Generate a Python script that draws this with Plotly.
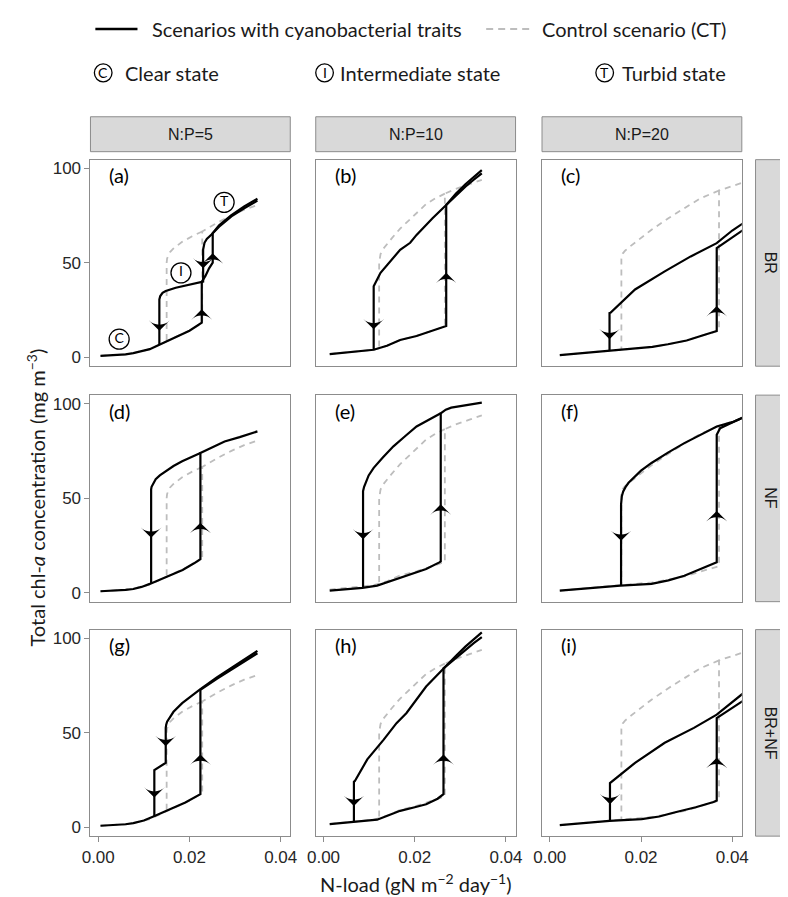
import plotly.graph_objects as go

# ---------------- data ----------------
COL_LABELS = ["N:P=5", "N:P=10", "N:P=20"]
ROW_LABELS = ["BR", "NF", "BR+NF"]
PANEL_TAGS = ["(a)", "(b)", "(c)", "(d)", "(e)", "(f)", "(g)", "(h)", "(i)"]
X_TICKS = [0.0, 0.02, 0.04]
X_TICKTEXT = ["0.00", "0.02", "0.04"]
Y_TICKS = [0, 50, 100]

# control scenario (CT), one per N:P column
ct1_fwd_x = [0.0005, 0.0040, 0.0060, 0.0077, 0.0095, 0.0113, 0.0134, 0.0150, 0.0170, 0.0200, 0.0228, 0.0228, 0.0260, 0.0292, 0.0320, 0.0349]
ct1_fwd_y = [0.7, 1.1, 1.5, 2.1, 3.0, 4.2, 6.6, 8.3, 10.4, 14.0, 18.0, 66.5, 71.0, 75.0, 78.0, 80.5]
ct1_bwd_x = [0.0228, 0.0206, 0.0184, 0.0165, 0.0157, 0.0153, 0.0151, 0.0150, 0.0150]
ct1_bwd_y = [66.5, 64.0, 61.0, 57.5, 55.5, 53.8, 52.2, 50.0, 9.0]

ct2_fwd_x = [0.00136, 0.0060, 0.0110, 0.0139, 0.0168, 0.0204, 0.0239, 0.0266, 0.0266, 0.0290, 0.0320, 0.0347]
ct2_fwd_y = [1.6, 2.8, 3.9, 6.0, 9.1, 11.2, 13.9, 16.2, 86.5, 89.0, 91.5, 93.8]
ct2_bwd_x = [0.0266, 0.0245, 0.0225, 0.0200, 0.0168, 0.0150, 0.0139, 0.0130, 0.0125, 0.0123, 0.0122, 0.0122]
ct2_bwd_y = [86.5, 84.0, 81.0, 75.5, 68.0, 63.0, 59.8, 57.0, 54.5, 52.5, 50.0, 4.5]

ct3_fwd_x = [0.0022, 0.0080, 0.0130, 0.0187, 0.0225, 0.0259, 0.0300, 0.0331, 0.0355, 0.0371, 0.0371, 0.0400, 0.0425]
ct3_fwd_y = [1.05, 2.2, 3.3, 4.3, 5.4, 6.8, 8.8, 11.2, 13.0, 14.0, 88.2, 90.5, 92.5]
ct3_bwd_x = [0.0371, 0.0330, 0.0295, 0.0260, 0.0223, 0.0190, 0.0173, 0.0165, 0.0160, 0.0158, 0.0157, 0.0157]
ct3_bwd_y = [88.2, 84.0, 78.8, 73.5, 67.4, 61.5, 58.0, 56.3, 54.8, 53.5, 52.0, 4.0]

# scenarios with cyanobacterial traits: forward (increasing load) and backward paths
a_fwd_x = [0.0005, 0.0040, 0.0060, 0.0077, 0.0095, 0.0113, 0.0134, 0.0150, 0.0170, 0.0200, 0.0227, 0.0227, 0.0235, 0.0243, 0.0251, 0.0251, 0.0265, 0.0280, 0.0292, 0.0320, 0.0349]
a_fwd_y = [0.7, 1.1, 1.5, 2.1, 3.0, 4.2, 6.6, 8.3, 10.4, 14.0, 18.2, 39.8, 43.0, 47.0, 50.0, 65.5, 69.0, 72.2, 74.5, 78.8, 82.8]
a_bwd_x = [0.0349, 0.0320, 0.0292, 0.0265, 0.0249, 0.0238, 0.0233, 0.0230, 0.0230, 0.0200, 0.0170, 0.0148, 0.0141, 0.0136, 0.0134, 0.0134]
a_bwd_y = [83.8, 79.8, 75.2, 69.8, 65.0, 62.5, 60.5, 57.0, 40.0, 38.3, 36.7, 35.0, 34.0, 32.3, 30.5, 6.6]
a_arr_x = [0.0134, 0.0230, 0.0227, 0.0251]
a_arr_y = [13.9, 47.0, 25.3, 55.0]
a_arr_dir = [-1, -1, 1, 1]

b_fwd_x = [0.00136, 0.0060, 0.0110, 0.0139, 0.0168, 0.0204, 0.0239, 0.0269, 0.0269, 0.0290, 0.0311, 0.0330, 0.0347]
b_fwd_y = [1.6, 2.8, 3.9, 6.0, 9.1, 11.2, 13.9, 16.5, 80.5, 85.5, 90.2, 94.0, 97.3]
b_bwd_x = [0.0347, 0.0330, 0.0311, 0.0290, 0.0269, 0.0239, 0.0204, 0.0190, 0.0168, 0.0125, 0.0113, 0.0110, 0.0110]
b_bwd_y = [99.0, 95.5, 91.5, 86.5, 80.5, 73.5, 64.7, 60.5, 56.8, 44.6, 39.5, 37.5, 3.9]
b_arr_x = [0.0110, 0.0269]
b_arr_y = [14.7, 44.6]
b_arr_dir = [-1, 1]

c_fwd_x = [0.0022, 0.0080, 0.0130, 0.0187, 0.0225, 0.0259, 0.0300, 0.0331, 0.0355, 0.0366, 0.0366, 0.0402, 0.0425]
c_fwd_y = [1.05, 2.2, 3.3, 4.3, 5.4, 6.8, 8.8, 11.2, 13.0, 13.8, 57.7, 63.9, 67.5]
c_bwd_x = [0.0425, 0.0400, 0.0366, 0.0309, 0.0252, 0.0187, 0.0133, 0.0131, 0.0131]
c_bwd_y = [71.0, 67.0, 60.3, 53.3, 45.4, 35.8, 23.5, 23.3, 3.3]
c_arr_x = [0.0131, 0.0366]
c_arr_y = [9.5, 27.0]
c_arr_dir = [-1, 1]

d_fwd_x = [0.0005, 0.0040, 0.0060, 0.0077, 0.0095, 0.0113, 0.0148, 0.0185, 0.0210, 0.0224, 0.0224, 0.0250, 0.0277, 0.0310, 0.0349]
d_fwd_y = [0.7, 1.0, 1.4, 1.9, 3.0, 4.6, 8.1, 12.0, 15.5, 17.7, 73.9, 77.0, 80.0, 82.3, 85.3]
d_bwd_x = [0.0224, 0.0200, 0.0184, 0.0165, 0.0148, 0.0135, 0.0126, 0.0120, 0.0117, 0.0116, 0.0116]
d_bwd_y = [73.9, 71.5, 69.5, 67.0, 64.2, 62.0, 60.0, 57.8, 56.0, 54.6, 4.6]
d_arr_x = [0.0116, 0.0224]
d_arr_y = [29.0, 37.0]
d_arr_dir = [-1, 1]

e_fwd_x = [0.00136, 0.00853, 0.01176, 0.0140, 0.0168, 0.0200, 0.0225, 0.0254, 0.0257, 0.0257, 0.0268, 0.0280, 0.0295, 0.0320, 0.0347]
e_fwd_y = [1.05, 2.5, 3.7, 5.5, 8.1, 10.5, 12.5, 16.0, 16.5, 94.9, 96.8, 97.9, 98.5, 99.2, 100.5]
e_bwd_x = [0.0257, 0.0230, 0.0204, 0.0180, 0.01533, 0.0130, 0.0110, 0.00990, 0.00930, 0.00890, 0.00867, 0.00867]
e_bwd_y = [94.9, 91.5, 87.9, 83.0, 77.4, 71.5, 66.0, 62.0, 58.8, 56.0, 53.7, 2.5]
e_arr_x = [0.00867, 0.0257]
e_arr_y = [28.2, 46.7]
e_arr_dir = [-1, 1]

f_fwd_x = [0.0022, 0.0080, 0.01548, 0.0223, 0.0260, 0.0295, 0.0330, 0.0355, 0.0366, 0.0366, 0.03735, 0.0400, 0.0425]
f_fwd_y = [1.05, 2.3, 3.7, 4.6, 6.5, 8.9, 12.5, 15.0, 16.0, 83.5, 87.0, 90.0, 92.8]
f_bwd_x = [0.0425, 0.0400, 0.0366, 0.0330, 0.0295, 0.0260, 0.0223, 0.0200, 0.01727, 0.0166, 0.0161, 0.01580, 0.01565, 0.01563, 0.01563]
f_bwd_y = [92.8, 90.2, 87.9, 83.5, 79.1, 74.2, 68.6, 64.5, 58.1, 55.8, 53.5, 51.0, 48.8, 46.7, 3.7]
f_arr_x = [0.01563, 0.0366]
f_arr_y = [27.4, 43.2]
f_arr_dir = [-1, 1]

g_fwd_x = [0.0005, 0.0040, 0.0060, 0.0077, 0.0100, 0.0121, 0.0148, 0.0191, 0.0224, 0.0224, 0.0260, 0.0292, 0.0320, 0.0349]
g_fwd_y = [0.7, 1.1, 1.5, 2.1, 3.5, 5.6, 8.6, 13.0, 17.4, 72.6, 78.5, 83.2, 87.5, 92.0]
g_bwd_x = [0.0349, 0.0320, 0.0292, 0.0260, 0.0224, 0.0200, 0.0184, 0.0165, 0.01555, 0.0151, 0.0149, 0.0148, 0.0148, 0.0123, 0.0123]
g_bwd_y = [93.2, 88.7, 84.2, 79.2, 73.0, 68.8, 65.6, 61.0, 57.7, 55.8, 54.2, 52.5, 34.0, 30.2, 5.6]
g_arr_x = [0.0148, 0.0123, 0.0224]
g_arr_y = [42.8, 15.6, 38.4]
g_arr_dir = [-1, -1, 1]

h_fwd_x = [0.00136, 0.00673, 0.01176, 0.0140, 0.0168, 0.0200, 0.0225, 0.0250, 0.0263, 0.0263, 0.0290, 0.0311, 0.0330, 0.0347]
h_fwd_y = [1.6, 2.8, 3.9, 6.0, 8.6, 10.5, 12.1, 15.0, 17.4, 84.0, 89.5, 93.7, 97.5, 100.5]
h_bwd_x = [0.0347, 0.0330, 0.0311, 0.0290, 0.0263, 0.0225, 0.0182, 0.0160, 0.0132, 0.0096, 0.00688, 0.00667, 0.00667]
h_bwd_y = [103.0, 99.5, 95.5, 90.5, 84.0, 74.4, 60.4, 55.0, 46.3, 35.8, 24.4, 24.0, 2.8]
h_arr_x = [0.00667, 0.0263]
h_arr_y = [11.2, 38.4]
h_arr_dir = [-1, 1]

i_fwd_x = [0.0022, 0.0080, 0.01312, 0.02015, 0.0240, 0.0273, 0.0320, 0.0359, 0.0366, 0.0366, 0.0400, 0.0425]
i_fwd_y = [1.05, 2.3, 3.3, 4.2, 5.6, 7.7, 10.5, 13.3, 14.0, 57.7, 63.0, 67.0]
i_bwd_x = [0.0425, 0.0400, 0.0366, 0.0316, 0.0252, 0.0187, 0.0133, 0.0132, 0.0132]
i_bwd_y = [71.0, 66.0, 59.5, 52.5, 44.6, 34.0, 23.5, 23.3, 3.3]
i_arr_x = [0.0132, 0.0366]
i_arr_y = [12.1, 36.7]
i_arr_dir = [-1, 1]

# state labels drawn in panel (a)
state_letters = ["C", "I", "T"]
state_x = [0.00459, 0.01814, 0.02760]
state_y = [9.5, 44.6, 81.9]

# ---------------- assembly ----------------
# the page body adds an 8px margin, so the figure is 8px smaller and every
# reference pixel position is shifted by that offset
OFF = 8
W, H = 788 - OFF, 897 - OFF
def xp(px):
    return (px - OFF) / W
def yp(py):
    return 1 - (py - OFF) / H

col_left = [83, 313, 544]
panel_w = 204
row_top = [159, 395, 630]
panel_h = 207
X_RANGE = [-0.0017, 0.0421]
Y_RANGE = [-4.8, 104.5]

controls = [(ct1_fwd_x, ct1_fwd_y, ct1_bwd_x, ct1_bwd_y),
            (ct2_fwd_x, ct2_fwd_y, ct2_bwd_x, ct2_bwd_y),
            (ct3_fwd_x, ct3_fwd_y, ct3_bwd_x, ct3_bwd_y)]
panels = [
    (a_fwd_x, a_fwd_y, a_bwd_x, a_bwd_y, a_arr_x, a_arr_y, a_arr_dir),
    (b_fwd_x, b_fwd_y, b_bwd_x, b_bwd_y, b_arr_x, b_arr_y, b_arr_dir),
    (c_fwd_x, c_fwd_y, c_bwd_x, c_bwd_y, c_arr_x, c_arr_y, c_arr_dir),
    (d_fwd_x, d_fwd_y, d_bwd_x, d_bwd_y, d_arr_x, d_arr_y, d_arr_dir),
    (e_fwd_x, e_fwd_y, e_bwd_x, e_bwd_y, e_arr_x, e_arr_y, e_arr_dir),
    (f_fwd_x, f_fwd_y, f_bwd_x, f_bwd_y, f_arr_x, f_arr_y, f_arr_dir),
    (g_fwd_x, g_fwd_y, g_bwd_x, g_bwd_y, g_arr_x, g_arr_y, g_arr_dir),
    (h_fwd_x, h_fwd_y, h_bwd_x, h_bwd_y, h_arr_x, h_arr_y, h_arr_dir),
    (i_fwd_x, i_fwd_y, i_bwd_x, i_bwd_y, i_arr_x, i_arr_y, i_arr_dir),
]

fig = go.Figure()
layout = dict(width=W, height=H, margin=dict(l=0, r=0, t=0, b=0),
              paper_bgcolor="white", plot_bgcolor="white", showlegend=False)
annotations = []
shapes = []

BORDER = "#8c8c8c"
TICKFONT = dict(family="Liberation Sans, Arial, sans-serif", size=17, color="#262626")
TXTFONT = "Lato, Open Sans, sans-serif"

for k in range(9):
    r, c = divmod(k, 3)
    n = k + 1
    xa = "x" if n == 1 else f"x{n}"
    ya = "y" if n == 1 else f"y{n}"
    x_dom = [xp(col_left[c]), xp(col_left[c] + panel_w)]
    y_dom = [yp(row_top[r] + panel_h), yp(row_top[r])]
    layout["xaxis" if n == 1 else f"xaxis{n}"] = dict(
        domain=x_dom, range=X_RANGE, anchor=ya, showgrid=False, zeroline=False,
        showline=True, mirror=True, linecolor=BORDER, linewidth=1,
        ticks="outside" if r == 2 else "", ticklen=5, tickcolor=BORDER,
        tickvals=X_TICKS, ticktext=X_TICKTEXT, showticklabels=(r == 2),
        tickfont=TICKFONT, fixedrange=True)
    layout["yaxis" if n == 1 else f"yaxis{n}"] = dict(
        domain=y_dom, range=Y_RANGE, anchor=xa, showgrid=False, zeroline=False,
        showline=True, mirror=True, linecolor=BORDER, linewidth=1,
        ticks="outside" if c == 0 else "", ticklen=5, tickcolor=BORDER,
        tickvals=Y_TICKS, showticklabels=(c == 0),
        tickfont=TICKFONT, fixedrange=True)

    cfx, cfy, cbx, cby = controls[c]
    fig.add_trace(go.Scatter(x=cfx + [None] + cbx, y=cfy + [None] + cby, mode="lines",
                             line=dict(color="#bdbdbd", width=1.8, dash="6px,5px"),
                             xaxis=xa, yaxis=ya, hoverinfo="skip"))
    fx, fy, bx, by, ax_, ay_, ad_ = panels[k]
    fig.add_trace(go.Scatter(x=fx + [None] + bx, y=fy + [None] + by, mode="lines",
                             line=dict(color="black", width=2.2),
                             xaxis=xa, yaxis=ya, hoverinfo="skip"))
    fig.add_trace(go.Scatter(x=ax_, y=ay_, mode="markers",
                             marker=dict(symbol="arrow-wide", size=15, color="black",
                                         angle=[0 if d > 0 else 180 for d in ad_],
                                         line=dict(width=0)),
                             xaxis=xa, yaxis=ya, hoverinfo="skip"))
    annotations.append(dict(text=PANEL_TAGS[k], xref=f"{xa} domain", yref=f"{ya} domain",
                            x=0.085, y=0.925, xanchor="left", yanchor="middle", showarrow=False,
                            font=dict(family=TXTFONT, size=20, color="black")))

# state labels in panel (a)
fig.add_trace(go.Scatter(x=state_x, y=state_y, mode="markers+text", text=state_letters,
                         textposition="middle center",
                         textfont=dict(family=TXTFONT, size=14, color="black"),
                         marker=dict(symbol="circle-open", size=20, color="black",
                                     line=dict(width=1.3, color="black")),
                         xaxis="x", yaxis="y", hoverinfo="skip"))

# strips
STRIP_FILL = "#d9d9d9"
STRIP_FONT = dict(family="Liberation Sans, Arial, sans-serif", size=16, color="#1a1a1a")
for c in range(3):
    shapes.append(dict(type="rect", xref="paper", yref="paper",
                       x0=xp(col_left[c]), x1=xp(col_left[c] + panel_w),
                       y0=yp(151), y1=yp(116), fillcolor=STRIP_FILL,
                       line=dict(color=BORDER, width=1), layer="below"))
    annotations.append(dict(text=COL_LABELS[c], xref="paper", yref="paper",
                            x=xp(col_left[c] + panel_w / 2), y=yp(133.5),
                            xanchor="center", yanchor="middle",
                            showarrow=False, font=STRIP_FONT))
for r in range(3):
    shapes.append(dict(type="rect", xref="paper", yref="paper",
                       x0=xp(762), x1=xp(800),
                       y0=yp(row_top[r] + panel_h), y1=yp(row_top[r]), fillcolor=STRIP_FILL,
                       line=dict(color=BORDER, width=1), layer="below"))
    annotations.append(dict(text=ROW_LABELS[r], xref="paper", yref="paper",
                            x=xp(777), y=yp(row_top[r] + panel_h / 2), textangle=90,
                            xanchor="center", yanchor="middle",
                            showarrow=False, font=STRIP_FONT))

# axis titles
annotations.append(dict(text="Total chl-<i>a</i> concentration (mg m<sup>−3</sup>)",
                        xref="paper", yref="paper", x=xp(27), y=yp(498), textangle=-90,
                        xanchor="center", yanchor="middle",
                        showarrow=False, font=dict(family=TXTFONT, size=20, color="#1a1a1a")))
annotations.append(dict(text="N-load (gN m<sup>−2</sup> day<sup>−1</sup>)",
                        xref="paper", yref="paper", x=xp(415), y=yp(884),
                        xanchor="center", yanchor="middle",
                        showarrow=False, font=dict(family=TXTFONT, size=20, color="#1a1a1a")))

# legend (drawn manually)
LEG_FONT = dict(family=TXTFONT, size=20, color="#1a1a1a")
LEG_Y1, LEG_Y2 = 28, 72
shapes.append(dict(type="line", xref="paper", yref="paper", x0=xp(88), x1=xp(131),
                   y0=yp(LEG_Y1), y1=yp(LEG_Y1), line=dict(color="black", width=2.5)))
annotations.append(dict(text="Scenarios with cyanobacterial traits", xref="paper", yref="paper",
                        x=xp(144), y=yp(LEG_Y1), xanchor="left", yanchor="middle",
                        showarrow=False, font=LEG_FONT))
shapes.append(dict(type="line", xref="paper", yref="paper", x0=xp(487), x1=xp(531),
                   y0=yp(LEG_Y1), y1=yp(LEG_Y1), line=dict(color="#bdbdbd", width=2, dash="7px,5px")))
annotations.append(dict(text="Control scenario (CT)", xref="paper", yref="paper",
                        x=xp(542), y=yp(LEG_Y1), xanchor="left", yanchor="middle",
                        showarrow=False, font=LEG_FONT))
leg_states = [("C", 96, "Clear state", 116), ("I", 322, "Intermediate state", 336),
              ("T", 608, "Turbid state", 624)]
for letter, cx, label, tx in leg_states:
    shapes.append(dict(type="circle", xref="paper", yref="paper",
                       x0=xp(cx - 9), x1=xp(cx + 9), y0=yp(LEG_Y2 + 9), y1=yp(LEG_Y2 - 9),
                       line=dict(color="black", width=1.3)))
    annotations.append(dict(text=letter, xref="paper", yref="paper", x=xp(cx), y=yp(LEG_Y2),
                            xanchor="center", yanchor="middle",
                            showarrow=False, font=dict(family=TXTFONT, size=14, color="black")))
    annotations.append(dict(text=label, xref="paper", yref="paper", x=xp(tx), y=yp(LEG_Y2),
                            xanchor="left", yanchor="middle", showarrow=False, font=LEG_FONT))

layout["annotations"] = annotations
layout["shapes"] = shapes
fig.update_layout(**layout)
fig.write_html("out.html")
